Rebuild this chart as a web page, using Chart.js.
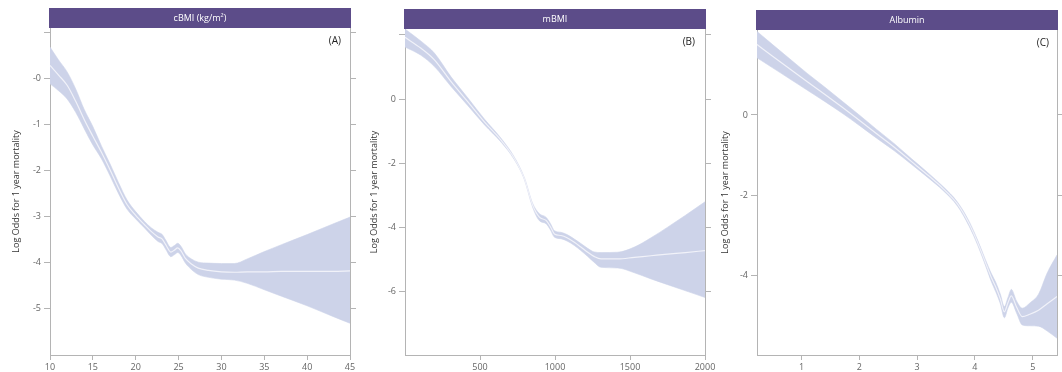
<!DOCTYPE html>
<html>
<head>
<meta charset="utf-8">
<script src="https://cdn.jsdelivr.net/npm/chart.js@4"></script>
<style>
  body { margin: 0; background: #fff; }
  canvas { position: absolute; top: 0; }
</style>
</head>
<body>
<canvas id="cA" width="362" height="372" style="left:0"></canvas>
<canvas id="cB" width="356" height="372" style="left:362px"></canvas>
<canvas id="cC" width="344" height="372" style="left:718px"></canvas>
<script>
// panel A - cBMI
const aX    = [10, 11, 12, 13, 14, 15, 16, 17, 18, 19, 20, 21, 21.8, 22.6, 23.1, 23.5, 24.1, 24.5, 24.9, 25.3, 25.8, 26.5, 27.3, 28.5, 30, 31.5, 33, 35, 37, 40, 43, 45];
const aFit  = [0.28, 0.07, -0.15, -0.50, -0.90, -1.26, -1.61, -1.99, -2.39, -2.75, -2.98, -3.18, -3.33, -3.45, -3.50, -3.62, -3.78, -3.74, -3.69, -3.76, -3.92, -4.04, -4.13, -4.18, -4.21, -4.22, -4.21, -4.21, -4.20, -4.20, -4.20, -4.19];
const aHigh = [0.68, 0.40, 0.14, -0.23, -0.68, -1.05, -1.47, -1.86, -2.27, -2.65, -2.90, -3.11, -3.25, -3.35, -3.40, -3.52, -3.68, -3.64, -3.59, -3.66, -3.82, -3.93, -4.00, -4.02, -4.03, -4.03, -3.93, -3.77, -3.62, -3.40, -3.17, -3.02];
const aLow  = [-0.12, -0.27, -0.45, -0.74, -1.10, -1.45, -1.75, -2.12, -2.51, -2.85, -3.06, -3.25, -3.41, -3.55, -3.60, -3.72, -3.88, -3.84, -3.79, -3.86, -4.02, -4.16, -4.27, -4.33, -4.37, -4.39, -4.46, -4.60, -4.74, -4.95, -5.18, -5.33];
const aXTicks = [10, 15, 20, 25, 30, 35, 40, 45];
const aYTicks = [1, 0, -1, -2, -3, -4, -5];
const aYLabels = ['', '-0', '-1', '-2', '-3', '-4', '-5'];

// panel B - mBMI
const bX    = [0, 107, 196, 307, 418, 529, 640, 729, 796, 851, 896, 940, 970, 996, 1040, 1080, 1129, 1170, 1218, 1260, 1307, 1418, 1529, 1640, 1751, 1870, 2000];
const bFit  = [1.92, 1.58, 1.22, 0.54, -0.08, -0.71, -1.28, -1.85, -2.48, -3.31, -3.68, -3.78, -3.98, -4.20, -4.25, -4.32, -4.46, -4.60, -4.77, -4.90, -4.98, -4.98, -4.93, -4.88, -4.83, -4.78, -4.72];
const bHigh = [2.18, 1.80, 1.43, 0.69, 0.04, -0.62, -1.22, -1.81, -2.45, -3.25, -3.57, -3.68, -3.88, -4.10, -4.15, -4.22, -4.36, -4.49, -4.65, -4.76, -4.78, -4.77, -4.61, -4.32, -3.99, -3.62, -3.20];
const bLow  = [1.62, 1.36, 1.01, 0.39, -0.20, -0.80, -1.34, -1.89, -2.51, -3.37, -3.79, -3.88, -4.08, -4.30, -4.35, -4.42, -4.56, -4.71, -4.90, -5.08, -5.24, -5.26, -5.41, -5.60, -5.78, -5.97, -6.18];
const bXTicks = [500, 1000, 1500, 2000];
const bYTicks = [2, 0, -2, -4, -6];
const bYLabels = ['', '0', '-2', '-4', '-6'];

// panel C - albumin
const cX    = [0.23, 0.5, 0.8, 1.1, 1.4, 1.7, 2.0, 2.3, 2.6, 2.9, 3.2, 3.45, 3.7, 3.9, 4.05, 4.18, 4.28, 4.36, 4.44, 4.51, 4.57, 4.63, 4.72, 4.82, 4.95, 5.1, 5.25, 5.42];
const cFit  = [1.76, 1.47, 1.15, 0.83, 0.52, 0.20, -0.13, -0.47, -0.80, -1.16, -1.52, -1.84, -2.23, -2.72, -3.20, -3.68, -4.05, -4.30, -4.60, -4.92, -4.70, -4.52, -4.80, -5.04, -4.98, -4.88, -4.72, -4.54];
const cHigh = [2.09, 1.76, 1.40, 1.04, 0.70, 0.35, 0.00, -0.36, -0.71, -1.09, -1.46, -1.79, -2.18, -2.66, -3.14, -3.61, -3.95, -4.18, -4.48, -4.79, -4.57, -4.36, -4.65, -4.83, -4.70, -4.48, -3.95, -3.50];
const cLow  = [1.43, 1.18, 0.90, 0.62, 0.34, 0.05, -0.26, -0.58, -0.89, -1.23, -1.58, -1.89, -2.28, -2.78, -3.26, -3.75, -4.15, -4.42, -4.72, -5.07, -4.83, -4.68, -4.95, -5.25, -5.27, -5.28, -5.40, -5.58];
const cXTicks = [1, 2, 3, 4, 5];
const cYTicks = [0, -2, -4];
const cYLabels = ['0', '-2', '-4'];

const BAND = '#cdd3e9';
const LINE = '#f1f2f9';
const AXIS = '#b4b4b4';
const HEAD = '#5c4c89';
const FONT = '"Open Sans", "DejaVu Sans", sans-serif';

const panelDeco = {
  id: 'panelDeco',
  afterDraw(chart, args, opts) {
    const { ctx, chartArea } = chart;
    ctx.save();
    ctx.fillStyle = HEAD;
    ctx.fillRect(chartArea.left - 1, chartArea.top - 20, chartArea.right - chartArea.left + 2, 20);
    ctx.fillStyle = '#ffffff';
    ctx.font = '9px ' + FONT;
    ctx.textAlign = 'center';
    ctx.textBaseline = 'middle';
    ctx.fillText(opts.title, (chartArea.left + chartArea.right) / 2, chartArea.top - 10);
    ctx.fillStyle = '#222222';
    ctx.font = '10px ' + FONT;
    ctx.textAlign = 'right';
    ctx.fillText(opts.tag, chartArea.right - opts.tagDx, chartArea.top + 13);
    ctx.restore();
  }
};

function pts(xs, ys) {
  return xs.map((x, i) => ({ x: x, y: ys[i] }));
}

function makePanel(id, o) {
  const tickFont = { family: FONT, size: 9 };
  new Chart(document.getElementById(id), {
    type: 'line',
    data: {
      datasets: [
        // fit line first so it is painted on top of the band
        { data: pts(o.x, o.fit), borderColor: LINE, borderWidth: 1.2, pointRadius: 0, fill: false, cubicInterpolationMode: 'monotone' },
        { data: pts(o.x, o.lo), borderColor: BAND, borderWidth: 0.6, pointRadius: 0, fill: false, cubicInterpolationMode: 'monotone' },
        { data: pts(o.x, o.hi), borderColor: BAND, borderWidth: 0.6, pointRadius: 0, fill: '-1', backgroundColor: BAND, cubicInterpolationMode: 'monotone' }
      ]
    },
    options: {
      responsive: false,
      animation: false,
      events: [],
      layout: { padding: { top: o.top, left: 0, right: 0, bottom: 0 } },
      plugins: {
        legend: { display: false },
        tooltip: { enabled: false },
        panelDeco: { title: o.title, tag: o.tag, tagDx: o.tagDx }
      },
      scales: {
        x: {
          type: 'linear', min: o.xMin, max: o.xMax,
          afterBuildTicks: s => { s.ticks = o.xTicks.map(v => ({ value: v })); },
          ticks: { font: tickFont, color: '#666', padding: 2, maxRotation: 0, autoSkip: false, callback: v => String(v) },
          grid: { drawOnChartArea: false, tickLength: 5, color: AXIS },
          border: { color: AXIS },
          afterFit: s => { s.height = 17; }
        },
        y: {
          min: o.yMin, max: o.yMax,
          afterBuildTicks: s => { s.ticks = o.yTicks.map(v => ({ value: v })); },
          ticks: { font: tickFont, color: '#666', padding: 3, autoSkip: false, callback: (v, i) => o.yLabels[i] },
          grid: { drawOnChartArea: false, tickLength: 6, color: AXIS },
          border: { color: AXIS },
          title: { display: true, text: 'Log Odds for 1 year mortality', color: '#333', font: { family: FONT, size: 9 }, padding: { top: o.titlePad, bottom: 0 } },
          afterFit: s => { s.width = o.yw; }
        },
        yR: {
          position: 'right', min: o.yMin, max: o.yMax,
          afterBuildTicks: s => { s.ticks = o.yTicks.map(v => ({ value: v })); },
          ticks: { display: false },
          grid: { drawOnChartArea: false, tickLength: 6, color: AXIS },
          border: { color: AXIS },
          afterFit: s => { s.width = o.rw; }
        }
      }
    },
    plugins: [panelDeco]
  });
}

makePanel('cA', {
  x: aX, fit: aFit, hi: aHigh, lo: aLow,
  xMin: 10, xMax: 45, yMin: -6.02, yMax: 1.095,
  xTicks: aXTicks, yTicks: aYTicks, yLabels: aYLabels,
  title: 'cBMI (kg/m\u00B2)', tag: '(A)', tagDx: 9,
  top: 28, yw: 50, rw: 12, titlePad: 11
});

makePanel('cB', {
  x: bX, fit: bFit, hi: bHigh, lo: bLow,
  xMin: 0, xMax: 2000, yMin: -7.97, yMax: 2.18,
  xTicks: bXTicks, yTicks: bYTicks, yLabels: bYLabels,
  title: 'mBMI', tag: '(B)', tagDx: 10,
  top: 29, yw: 43, rw: 13, titlePad: 7
});

makePanel('cC', {
  x: cX, fit: cFit, hi: cHigh, lo: cLow,
  xMin: 0.23, xMax: 5.42, yMin: -6.0, yMax: 2.125,
  xTicks: cXTicks, yTicks: cYTicks, yLabels: cYLabels,
  title: 'Albumin', tag: '(C)', tagDx: 8,
  top: 30, yw: 39, rw: 5, titlePad: 2
});
</script>
</body>
</html>
